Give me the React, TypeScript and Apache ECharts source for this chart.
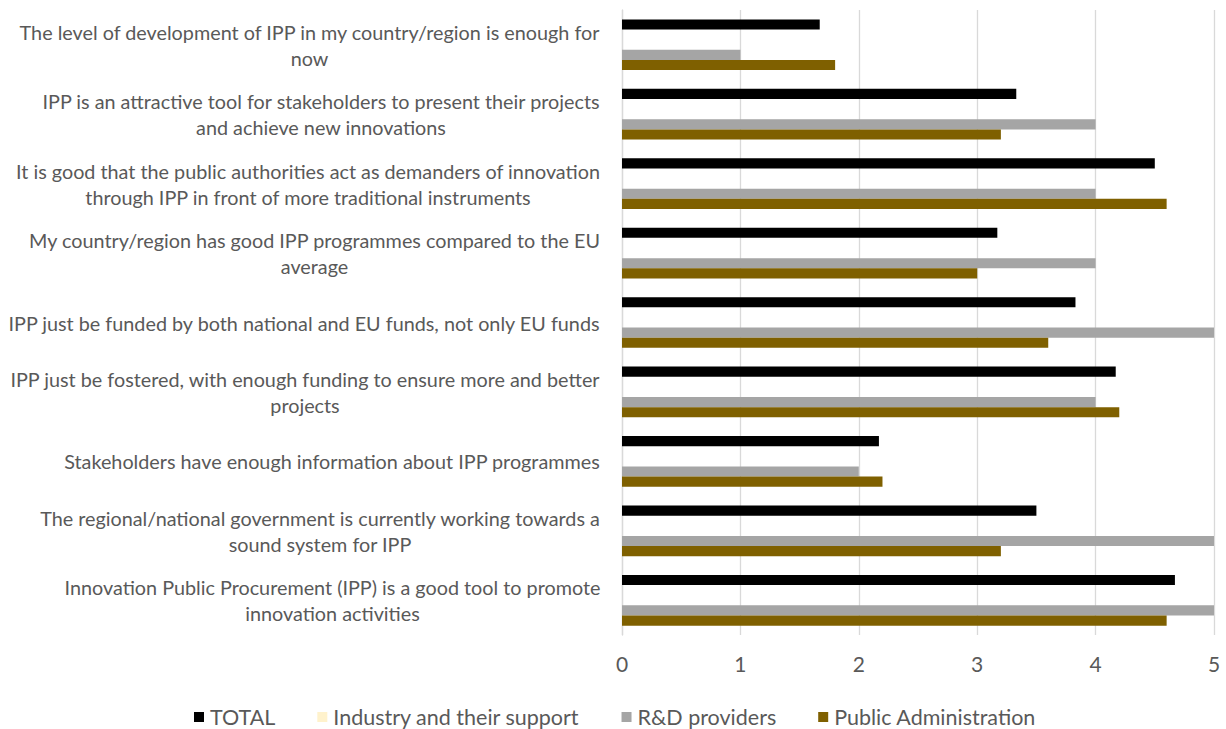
import React, { useEffect, useRef } from "react";
import * as echarts from "echarts";

const categories = [
  "The level of development of IPP in my country/region is enough for\nnow",
  "IPP is an attractive tool for stakeholders to present their projects\nand achieve new innovations",
  "It is good that the public authorities act as demanders of innovation\nthrough IPP in front of more traditional instruments",
  "My country/region has good IPP programmes compared to the EU\naverage",
  "IPP just be funded by both national and EU funds, not only EU funds",
  "IPP just be fostered, with enough funding to ensure more and better\nprojects",
  "Stakeholders have enough information about IPP programmes",
  "The regional/national government is currently working towards a\nsound system for IPP",
  "Innovation Public Procurement (IPP) is a good tool to promote\ninnovation activities",
];

const seriesNames = ["TOTAL", "Industry and their support", "R&D providers", "Public Administration"];
const totalValues = [1.67, 3.33, 4.5, 3.17, 3.83, 4.17, 2.17, 3.5, 4.67];
const industryValues = [null, null, null, null, null, null, null, null, null];
const blankValues = [null, null, null, null, null, null, null, null, null];
const rdValues = [1, 4, 4, 4, 5, 4, 2, 5, 5];
const paValues = [1.8, 3.2, 4.6, 3.0, 3.6, 4.2, 2.2, 3.2, 4.6];
const xMin = 0;
const xMax = 5;
const xStep = 1;

const FONT = "Lato";
const LABEL_SIZE = 19.8;
const TEXT_COLOR = "#595959";

export default function App() {
  const ref = useRef<HTMLDivElement>(null);
  useEffect(() => {
    if (!ref.current) return;
    const chart = echarts.init(ref.current, null, { renderer: "svg" });

    const canvas = document.createElement("canvas");
    const ctx = canvas.getContext("2d")!;
    ctx.font = `${LABEL_SIZE}px ${FONT}`;
    const rich: Record<string, any> = {};
    categories.forEach((c, i) => {
      const w = Math.max(...c.split("\n").map((l) => ctx.measureText(l).width));
      rich["c" + i] = {
        width: Math.ceil(w) + 1,
        align: "center",
        fontFamily: FONT,
        fontSize: LABEL_SIZE,
        color: TEXT_COLOR,
        lineHeight: 26,
      };
    });

    const barBase = { type: "bar", barGap: "0%", barCategoryGap: "27%" };

    chart.setOption({
      animation: false,
      textStyle: { fontFamily: FONT },
      grid: { left: 622, right: 12, top: 10, bottom: 94, containLabel: false },
      legend: {
        data: seriesNames,
        left: 194,
        top: 706,
        padding: 0,
        itemWidth: 10,
        itemHeight: 10,
        itemGap: 42,
        icon: "rect",
        textStyle: { fontFamily: FONT, fontSize: 21.5, lineHeight: 22, color: TEXT_COLOR, padding: [0, 0, 0, 1] },
      },
      xAxis: {
        type: "value",
        min: xMin,
        max: xMax,
        interval: xStep,
        axisLine: { show: false },
        axisTick: { show: false },
        splitLine: { show: true, lineStyle: { color: "#d9d9d9", width: 1.3 } },
        axisLabel: { margin: 18, fontFamily: FONT, fontSize: 21, color: TEXT_COLOR },
      },
      yAxis: {
        type: "category",
        inverse: true,
        data: categories,
        axisLine: { show: true, lineStyle: { color: "#d9d9d9", width: 1.3 } },
        axisTick: { show: false },
        axisLabel: {
          margin: 21,
          align: "right",
          formatter: (value: string, index: number) =>
            value
              .split("\n")
              .map((l) => `{c${index}|${l}}`)
              .join("\n"),
          rich,
        },
      },
      series: [
        { ...barBase, name: seriesNames[0], data: totalValues, itemStyle: { color: "#000000" } },
        { ...barBase, name: seriesNames[1], data: industryValues, itemStyle: { color: "#FFF2CC" } },
        { ...barBase, name: "blank", data: blankValues, itemStyle: { color: "transparent" } },
        { ...barBase, name: seriesNames[2], data: rdValues, itemStyle: { color: "#A5A5A5" } },
        { ...barBase, name: seriesNames[3], data: paValues, itemStyle: { color: "#7F6000" } },
      ],
    });
    return () => chart.dispose();
  }, []);
  return (
    <div
      ref={ref}
      style={{ position: "fixed", left: 0, top: 0, width: 1226, height: 729, background: "#fff" }}
    />
  );
}
